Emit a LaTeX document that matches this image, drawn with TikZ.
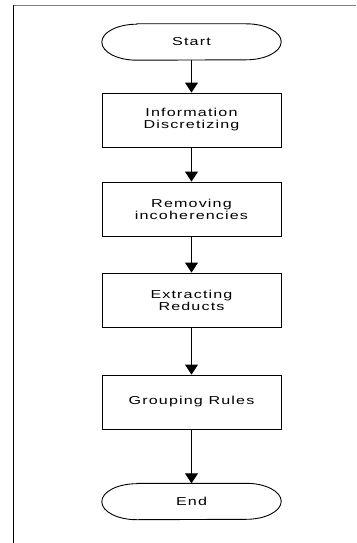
\documentclass[tikz,border=0pt]{standalone}
\usepackage{fontspec}
\setmainfont{Liberation Sans}[FakeStretch=1.4, LetterSpace=10]
\usetikzlibrary{arrows.meta}
\begin{document}
\begin{tikzpicture}[x=1pt,y=1pt,
  every node/.style={font=\fontsize{11.5}{12}\selectfont, align=center, inner sep=0pt},
  stepbox/.style={draw, line width=0.9pt, minimum width=179pt, minimum height=54pt},
  term/.style={minimum width=179pt, minimum height=36pt,
    append after command={
      \pgfextra{\draw[line width=0.9pt]
        ([xshift=35pt]\tikzlastnode.north west) -- ([xshift=-35pt]\tikzlastnode.north east)
        arc[start angle=90,end angle=-90,x radius=35pt,y radius=18pt]
        -- ([xshift=35pt]\tikzlastnode.south west)
        arc[start angle=270,end angle=90,x radius=35pt,y radius=18pt] -- cycle;}}},
  flow/.style={-{Triangle[width=13pt,length=10pt]}, line width=0.9pt}]
\useasboundingbox (0,0) rectangle (356,-543);
\draw[gray, line width=1.5pt] (13,-5.5) -- (356,-5.5);
\draw[line width=1pt] (13,-5.5) -- (13,-543);
\node[term] (start) at (191.5,-42) {Start};
\node[stepbox] (info) at (191.5,-120) {Information\\Discretizing};
\node[stepbox] (remove) at (191.5,-209) {Removing\\incoherencies};
\node[stepbox] (extract) at (191.5,-300) {Extracting\\Reducts};
\node[stepbox] (group) at (191.5,-402) {Grouping Rules};
\node[term] (end) at (191.5,-501.5) {End};
\draw[flow] (start) -- (info);
\draw[flow] (info) -- (remove);
\draw[flow] (remove) -- (extract);
\draw[flow] (extract) -- (group);
\draw[flow] (group) -- (end);
\end{tikzpicture}
\end{document}
